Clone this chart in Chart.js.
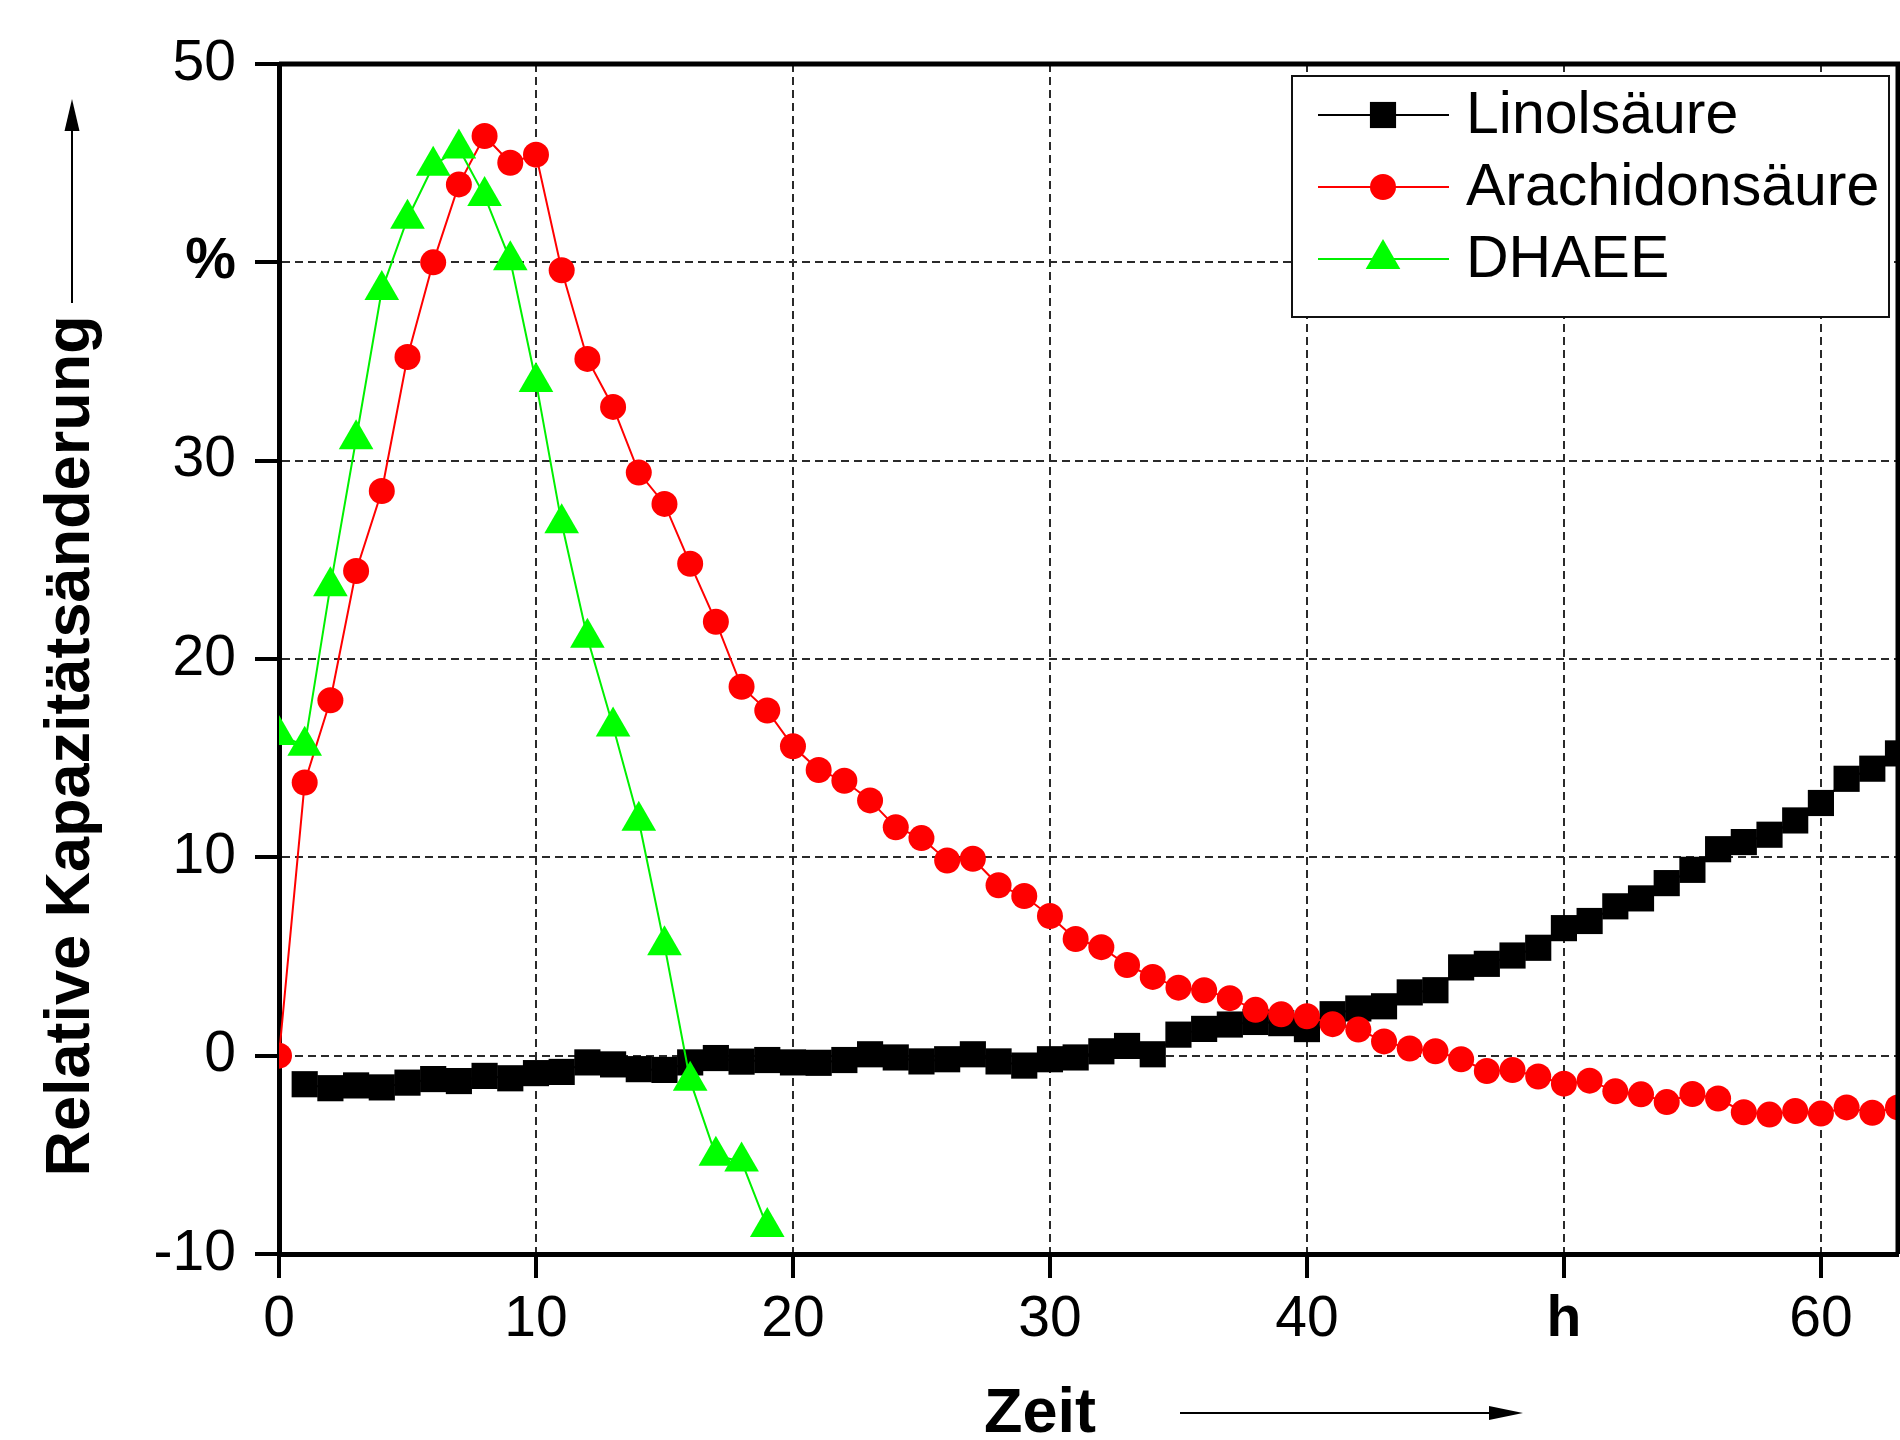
<!DOCTYPE html>
<html>
<head>
<meta charset="utf-8">
<script src="https://cdn.jsdelivr.net/npm/chart.js@4.4.1/dist/chart.umd.min.js"></script>
<style>
  html, body { margin: 0; padding: 0; background: #fff; }
  #wrap { width: 1900px; height: 1440px; }
</style>
</head>
<body>
<div id="wrap"><canvas id="chart" width="1900" height="1440"></canvas></div>
<script>
// ====== Data ======
const hours = [0, 1, 2, 3, 4, 5, 6, 7, 8, 9, 10, 11, 12, 13, 14, 15, 16, 17, 18, 19,
    20, 21, 22, 23, 24, 25, 26, 27, 28, 29, 30, 31, 32, 33, 34, 35, 36, 37, 38, 39,
    40, 41, 42, 43, 44, 45, 46, 47, 48, 49, 50, 51, 52, 53, 54, 55, 56, 57, 58, 59,
    60, 61, 62, 63];

const linolsaeure = [null, -1.44, -1.64, -1.5, -1.6, -1.36, -1.18, -1.28, -1.02, -1.14,
    -0.88, -0.82, -0.34, -0.44, -0.68, -0.72, -0.34, -0.12, -0.3, -0.22,
    -0.34, -0.36, -0.22, 0.07, -0.09, -0.29, -0.18, 0.07, -0.29, -0.5,
    -0.18, -0.09, 0.22, 0.49, 0.07, 1.06, 1.35, 1.57, 1.7, 1.64,
    1.34, 2.09, 2.38, 2.49, 3.19, 3.3, 4.45, 4.63, 5.05, 5.44,
    6.43, 6.79, 7.53, 7.93, 8.7, 9.37, 10.41, 10.77, 11.14, 11.86,
    12.74, 13.96, 14.47, 15.24];

const arachidonsaeure = [0, 13.77, 17.92, 24.44, 28.47, 35.23, 40.0, 43.93, 46.37, 45.02,
    45.43, 39.6, 35.13, 32.71, 29.4, 27.82, 24.8, 21.88, 18.6, 17.4,
    15.6, 14.4, 13.86, 12.87, 11.52, 10.97, 9.84, 9.93, 8.59, 8.05,
    7.04, 5.88, 5.47, 4.57, 3.97, 3.43, 3.3, 2.9, 2.31, 2.09,
    1.99, 1.59, 1.32, 0.72, 0.36, 0.22, -0.18, -0.77, -0.72, -1.05,
    -1.41, -1.26, -1.8, -1.95, -2.34, -1.93, -2.16, -2.85, -2.97, -2.79,
    -2.92, -2.61, -2.88, -2.61];

const dhaee = [16.17, 15.63, 23.67, 31.08, 38.6, 42.2, 44.87, 45.74, 43.34, 40.1,
    33.97, 26.84, 21.07, 16.6, 11.84, 5.57, -1.26, -5.05, -5.33, -8.64];

const xTickValues = [0, 10, 20, 30, 40, 50, 60];
const xTickLabels = ['0', '10', '20', '30', '40', 'h', '60'];
const yTickValues = [-10, 0, 10, 20, 30, 40, 50];
const yTickLabels = ['-10', '0', '10', '20', '30', '%', '50'];
const boldTickLabels = ['h', '%'];

const FONT = "'Liberation Sans', Arial, Helvetica, sans-serif";

function toPoints(values) {
    const pts = [];
    values.forEach((v, i) => {
        if (v !== null) pts.push({ x: hours[i], y: v });
    });
    return pts;
}

function tickFont(labels, values) {
    return c => {
        const lbl = c.tick ? labels[values.indexOf(c.tick.value)] : '';
        return { family: FONT, size: 57, weight: boldTickLabels.includes(lbl) ? 'bold' : 'normal' };
    };
}

// ====== Frame, legend, axis titles ======
const decorations = {
    id: 'decorations',
    afterDraw(chart) {
        const ctx = chart.ctx;
        const area = chart.chartArea;
        ctx.save();

        // top + right frame
        ctx.strokeStyle = '#000';
        ctx.lineWidth = 5;
        ctx.beginPath();
        ctx.moveTo(area.left, area.top);
        ctx.lineTo(area.right, area.top);
        ctx.lineTo(area.right, area.bottom);
        ctx.stroke();

        // legend
        const box = { x: 1292, y: 76, w: 597, h: 241 };
        ctx.fillStyle = '#fff';
        ctx.fillRect(box.x, box.y, box.w, box.h);
        ctx.strokeStyle = '#111';
        ctx.lineWidth = 2;
        ctx.strokeRect(box.x, box.y, box.w, box.h);
        const rows = [115, 187, 259];
        chart.data.datasets.forEach((ds, i) => {
            const y = rows[i];
            ctx.strokeStyle = ds.borderColor;
            ctx.lineWidth = 2;
            ctx.beginPath();
            ctx.moveTo(1318, y);
            ctx.lineTo(1449, y);
            ctx.stroke();
            ctx.fillStyle = ds.pointBackgroundColor;
            Chart.helpers.drawPoint(ctx, {
                pointStyle: ds.pointStyle, radius: ds.pointRadius, borderWidth: 0, rotation: 0
            }, 1383, y);
            ctx.fillStyle = '#000';
            ctx.font = '59px ' + FONT;
            ctx.textAlign = 'left';
            ctx.textBaseline = 'middle';
            ctx.fillText(ds.label, 1466, y + 2);
        });

        // y title + arrow
        ctx.fillStyle = '#000';
        ctx.strokeStyle = '#000';
        ctx.font = 'bold 63px ' + FONT;
        ctx.save();
        ctx.translate(89, 746);
        ctx.rotate(-Math.PI / 2);
        ctx.textAlign = 'center';
        ctx.textBaseline = 'alphabetic';
        ctx.fillText('Relative Kapazitätsänderung', 0, 0);
        ctx.restore();
        ctx.lineWidth = 2;
        ctx.beginPath();
        ctx.moveTo(72, 303);
        ctx.lineTo(72, 120);
        ctx.stroke();
        ctx.beginPath();
        ctx.moveTo(72, 99);
        ctx.lineTo(64.5, 131);
        ctx.lineTo(79.5, 131);
        ctx.closePath();
        ctx.fill();

        // x title + arrow
        ctx.textAlign = 'center';
        ctx.textBaseline = 'alphabetic';
        ctx.fillText('Zeit', 1040, 1432);
        ctx.beginPath();
        ctx.moveTo(1180, 1413);
        ctx.lineTo(1500, 1413);
        ctx.stroke();
        ctx.beginPath();
        ctx.moveTo(1523, 1413);
        ctx.lineTo(1489, 1406);
        ctx.lineTo(1489, 1420);
        ctx.closePath();
        ctx.fill();

        ctx.restore();
    }
};

// ====== Chart ======
const gridOpts = {
    color: '#2a2a2a',
    lineWidth: 2,
    drawTicks: true,
    tickLength: 24,
    tickWidth: 4,
    tickColor: '#000'
};
const borderOpts = { display: true, color: '#000', width: 5, dash: [8, 5] };

new Chart(document.getElementById('chart'), {
    type: 'line',
    data: {
        datasets: [{
            label: 'Linolsäure',
            data: toPoints(linolsaeure),
            borderColor: '#000',
            borderWidth: 2,
            pointStyle: 'rect',
            pointRadius: 18.5,
            pointBackgroundColor: '#000',
            pointBorderWidth: 0,
            order: 2
        }, {
            label: 'Arachidonsäure',
            data: toPoints(arachidonsaeure),
            borderColor: '#ff0000',
            borderWidth: 2,
            pointStyle: 'circle',
            pointRadius: 13,
            pointBackgroundColor: '#ff0000',
            pointBorderWidth: 0,
            order: 1
        }, {
            label: 'DHAEE',
            data: toPoints(dhaee),
            borderColor: '#00f000',
            borderWidth: 2,
            pointStyle: 'triangle',
            pointRadius: 20,
            pointBackgroundColor: '#00ff00',
            pointBorderWidth: 0,
            order: 0
        }]
    },
    options: {
        responsive: false,
        animation: false,
        layout: { autoPadding: false, padding: { top: 64, right: 2, left: 0, bottom: 0 } },
        plugins: {
            legend: { display: false },
            tooltip: { enabled: false }
        },
        scales: {
            x: {
                type: 'linear',
                min: 0,
                max: 63,
                z: 1,
                afterFit: s => {
                    s.height = 186;
                    s.paddingLeft = 0;
                    s.paddingRight = 0;
                },
                afterBuildTicks: s => { s.ticks = xTickValues.map(v => ({ value: v })); },
                grid: gridOpts,
                border: borderOpts,
                ticks: {
                    color: '#000',
                    padding: 8,
                    maxRotation: 0,
                    autoSkip: false,
                    font: tickFont(xTickLabels, xTickValues),
                    callback: v => xTickLabels[xTickValues.indexOf(v)]
                }
            },
            y: {
                type: 'linear',
                min: -10,
                max: 50,
                z: 1,
                afterFit: s => {
                    s.width = 279;
                    s.paddingTop = 0;
                    s.paddingBottom = 0;
                },
                afterBuildTicks: s => { s.ticks = yTickValues.map(v => ({ value: v })); },
                grid: gridOpts,
                border: borderOpts,
                ticks: {
                    color: '#000',
                    padding: 19,
                    autoSkip: false,
                    font: tickFont(yTickLabels, yTickValues),
                    callback: v => yTickLabels[yTickValues.indexOf(v)]
                }
            }
        }
    },
    plugins: [decorations]
});
</script>
</body>
</html>
